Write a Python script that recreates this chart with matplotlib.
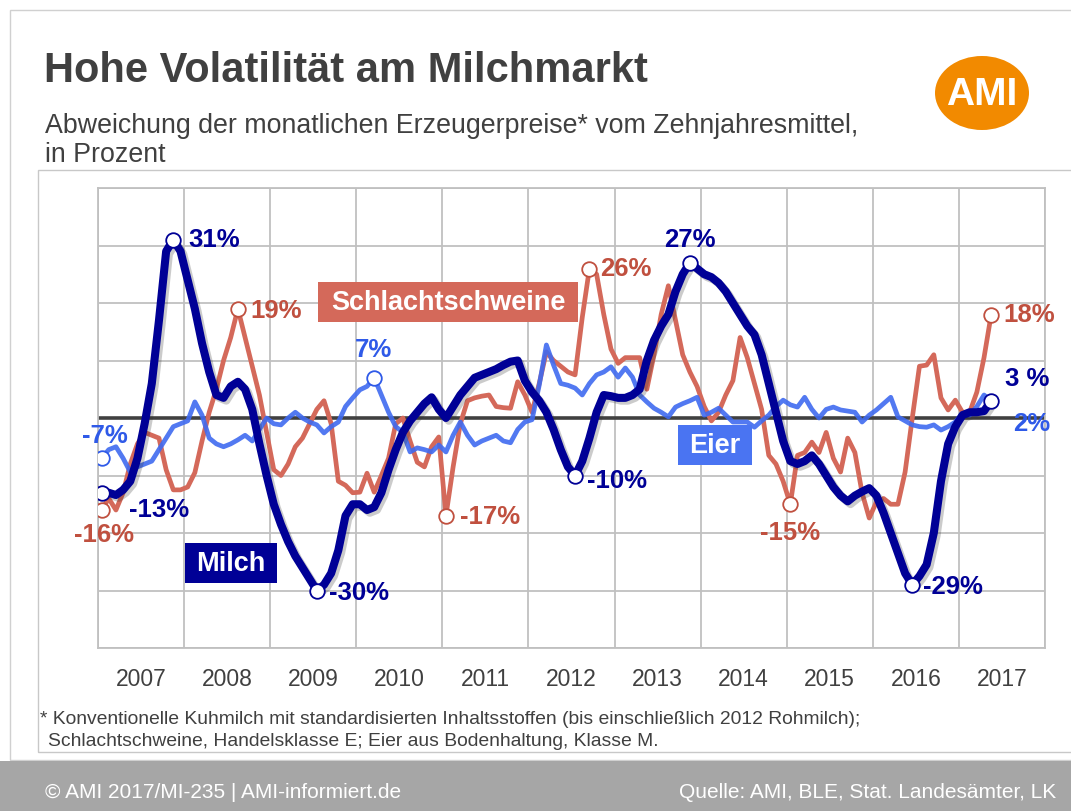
import numpy as np
import matplotlib

matplotlib.use("Agg")
import matplotlib.pyplot as plt  # noqa: E402
import matplotlib.patheffects as pe  # noqa: E402
from matplotlib.patches import Rectangle, Ellipse  # noqa: E402

plt.rcParams["font.family"] = ["Liberation Sans", "DejaVu Sans"]

# Abweichung vom Zehnjahresmittel in %, monatlich Jan 2007 - Mai 2017
milch = [
    -13, -13, -13.4, -12.5, -11, -7, -1, 6, 17, 29,
    31, 29, 24, 19, 13, 8, 4, 3.5, 5.5, 6.3,
    5, 1.5, -4.5, -10, -15, -18.5, -21.5, -24, -26, -28,
    -30, -29, -27, -23, -17, -15, -15, -16, -15.5, -13,
    -9, -5.5, -2.5, -0.5, 1, 2.5, 3.6, 1.5, 0, 2,
    4, 5.5, 7, 7.5, 8, 8.5, 9.2, 9.8, 10, 6.5,
    4.5, 3, 1, -2, -5.5, -8.5, -10, -7.5, -3.5, 1,
    4, 3.8, 3.5, 3.5, 4, 5, 10, 13.5, 16, 18,
    22, 25, 27, 26, 25, 24.5, 23.5, 22, 20, 18,
    16, 14.5, 11, 6, 1, -4, -7.5, -8, -7.5, -6.5,
    -8, -10, -12, -13.5, -14.5, -13.5, -12.8, -12.2, -13.5, -16.5,
    -20, -23.5, -27, -29, -27.5, -25.5, -20, -11, -4.5, -1.5,
    0.5, 1, 1, 1.2, 3,
]
schweine = [
    -16, -14, -16, -13, -8, -4.5, -2.5, -3, -3.5, -9,
    -12.5, -12.5, -12, -9.5, -4, 1, 5, 10, 14, 19,
    14, 9, 4, -2.5, -9, -10, -8, -5, -3.5, -1,
    1.5, 3, -1, -11, -11.7, -13, -12.9, -9.6, -12.9, -10,
    -7, -1, 0, -4, -7.7, -8.5, -5, -3.3, -17, -8.5,
    -1, 3, 3.5, 3.8, 4, 2, 1.8, 1.7, 6.3, 4,
    1, 6, 11.5, 10, 9, 8, 7.5, 17.5, 26, 25,
    18, 12, 9.5, 10.5, 10.5, 10.5, 5, 11, 18, 23,
    17, 11, 8, 5.5, 2, -0.5, 1, 4, 6.5, 14,
    10.5, 6, 1.5, -6.5, -8, -11, -15, -6.5, -6, -4.2,
    -6, -2.5, -7, -9.4, -3.5, -6, -13, -17.4, -14.6, -14,
    -15, -15, -9.4, 0, 9, 9.2, 11, 3.5, 1.4, 3.1,
    1, 1, 4.5, 10.5, 18,
]
eier = [
    -7, -5.5, -5, -7, -9.4, -8.5, -8, -7.5, -5.5, -3.5,
    -1.5, -1, -0.5, 2.8, 0.5, -3.5, -4.5, -5, -4.5, -3.8,
    -3, -4, -2, 0, -1, -1.2, 0, 1, 0, -0.7,
    -1.2, -2.6, -1.5, -0.7, 2, 3.5, 4.9, 5.5, 7, 4,
    1, -1.5, -2.5, -5.9, -5.2, -5.5, -5.9, -4.7, -5.9, -3,
    -0.7, -3, -4.7, -4, -3.5, -3, -4, -4.3, -2, -0.7,
    -0.3, 5.7, 12.7, 9.2, 6, 5.7, 5.2, 4, 6, 7.5,
    8, 8.9, 7.1, 8.7, 7.1, 4, 2.8, 1.7, 1, 0.2,
    1.9, 2.5, 3, 3.6, 0.5, 1, 1.7, 0.5, -0.7, -0.7,
    -0.7, -1.6, -0.5, 0.5, 2, 3.1, 2.3, 1.9, 3.6, 1.5,
    0, 1.5, 1.9, 1.4, 1.2, 1, -0.7, 0.5, 1.4, 2.5,
    3.6, 0.2, -0.5, -1.2, -1.5, -1.6, -1.2, -2.1, -1.5, -0.7,
    0.8, 0.5, 2, 4, 3,
]
years = list(range(2007, 2018))

# markierte Punkte: (index, text, offset px, ha)
milch_marks = [(0, "-13%", (27, -17), "left"), (10, "31%", (15, 0), "left"),
               (30, "-30%", (12, -2), "left"), (66, "-10%", (12, -5), "left"),
               (82, "27%", (0, 23), "center"), (113, "-29%", (11, -2), "left"),
               (124, "3 %", (36, 22), "center")]
schweine_marks = [(0, "-16%", (2, -25), "center"), (19, "19%", (12, -2), "left"),
                  (48, "-17%", (14, -1), "left"), (68, "26%", (11, -1), "left"),
                  (96, "-15%", (0, -29), "center"), (124, "18%", (12, 0), "left")]
eier_marks = [(0, "-7%", (3, 22), "center"), (38, "7%", (-1, 28), "center")]

C_MILCH = "#000096"
C_SCHW = "#d4695a"
C_EIER = "#3f6af0"
C_TEXT = "#404040"

x = 2007 + (np.arange(len(milch)) + 0.5) / 12

fig = plt.figure(figsize=(10.71, 8.11), dpi=100)
W, H = 1071, 811


def fx(px):
    return px / W


def fy(py):
    return 1 - py / H


def fbox(x0, y0, x1, y1, **kw):
    # Rechteck in Pixelkoordinaten (oben links / unten rechts)
    fig.patches.append(Rectangle((fx(x0), fy(y1)), fx(x1) - fx(x0), fy(y0) - fy(y1),
                                 transform=fig.transFigure, **kw))


# Rahmen / Fusszeile
fbox(10, 10, 1090, 760, fill=False, ec="#d0d0d0", lw=1)
fbox(38, 170, 1080, 752, fill=False, ec="#c8c8c8", lw=1)
fbox(0, 761, 1071, 811, fc="#a6a6a6", ec="none")
fig.text(fx(45), fy(793), "© AMI 2017/MI-235 | AMI-informiert.de", color="white", fontsize=15, va="center")
fig.text(fx(1056), fy(793), "Quelle: AMI, BLE, Stat. Landesämter, LK", color="white", fontsize=15,
         va="center", ha="right")

fig.text(fx(44), fy(71), "Hohe Volatilität am Milchmarkt", color=C_TEXT, fontsize=30, fontweight="bold",
         va="center")
fig.text(fx(45), fy(126), "Abweichung der monatlichen Erzeugerpreise* vom Zehnjahresmittel,", color=C_TEXT,
         fontsize=19.3, va="center")
fig.text(fx(45), fy(155), "in Prozent", color=C_TEXT, fontsize=19.3, va="center")

fig.patches.append(Ellipse((fx(982), fy(93)), fx(94), fy(0) - fy(74), transform=fig.transFigure,
                           fc="#f28a00", ec="none"))
fig.text(fx(982), fy(95), "AMI", color="white", fontsize=28, fontweight="bold", ha="center", va="center")

fig.text(fx(40), fy(720), "* Konventionelle Kuhmilch mit standardisierten Inhaltsstoffen "
         "(bis einschließlich 2012 Rohmilch);", color=C_TEXT, fontsize=13.9, va="center")
fig.text(fx(48), fy(742), "Schlachtschweine, Handelsklasse E; Eier aus Bodenhaltung, Klasse M.",
         color=C_TEXT, fontsize=13.9, va="center")

ax = fig.add_axes([fx(98), fy(648), fx(1045) - fx(98), fy(188) - fy(648)])
ax.set_xlim(2007, 2018)
ax.set_ylim(-40, 40)
ax.set_xticks(range(2007, 2019))
ax.set_yticks(range(-40, 41, 10))
ax.grid(True, color="#c0c0c0", lw=1.3)
ax.tick_params(length=0, labelleft=False, labelbottom=False)
for s in ax.spines.values():
    s.set_color("#c0c0c0")
    s.set_linewidth(1.3)
for yr in years:
    ax.text(yr + 0.5, -45.5, str(yr), ha="center", va="center", fontsize=16.5, color=C_TEXT)

ax.axhline(0, color="#404040", lw=2.6, zorder=2)

ax.plot(x, schweine, color=C_SCHW, lw=3.4, zorder=3, solid_joinstyle="round")
ax.plot(x, eier, color=C_EIER, lw=3.4, alpha=0.9, zorder=4, solid_joinstyle="round")
ax.plot(x, milch, color=C_MILCH, lw=5.8, zorder=5, solid_joinstyle="round", solid_capstyle="round",
        path_effects=[pe.SimpleLineShadow(offset=(2, -2), alpha=0.25, shadow_color="#333333"), pe.Normal()])


def mark(series, marks, color):
    for i, txt, off, ha in marks:
        ax.plot(x[i], series[i], "o", ms=10.5, mfc="white", mec=color, mew=1.3, zorder=6)
        ax.annotate(txt, (x[i], series[i]), xytext=off, textcoords="offset pixels", ha=ha, va="center",
                    color=color, fontsize=18.5, fontweight="bold", zorder=7)


mark(milch, milch_marks, C_MILCH)
mark(schweine, schweine_marks, "#c0503f")
mark(eier, eier_marks, "#2f5ae8")
ax.annotate("2%", (x[-1], eier[-1]), xytext=(40, -23), textcoords="offset pixels", ha="center",
            va="center", color="#2f5ae8", fontsize=18.5, fontweight="bold", zorder=7)

# Serien-Beschriftungen als farbige Kästen
for (x0, y0, x1, y1), txt, fc in [((318, 282, 578, 322), "Schlachtschweine", C_SCHW),
                                  ((678, 425, 752, 465), "Eier", "#4a74f2"),
                                  ((185, 543, 277, 583), "Milch", C_MILCH)]:
    fbox(x0, y0, x1, y1, fc=fc, ec="none", zorder=8)
    fig.text(fx((x0 + x1) / 2), fy((y0 + y1) / 2 + 1), txt, color="white", fontsize=19.5,
             fontweight="bold", ha="center", va="center", zorder=9)

fig.savefig("out.png", dpi=100)
